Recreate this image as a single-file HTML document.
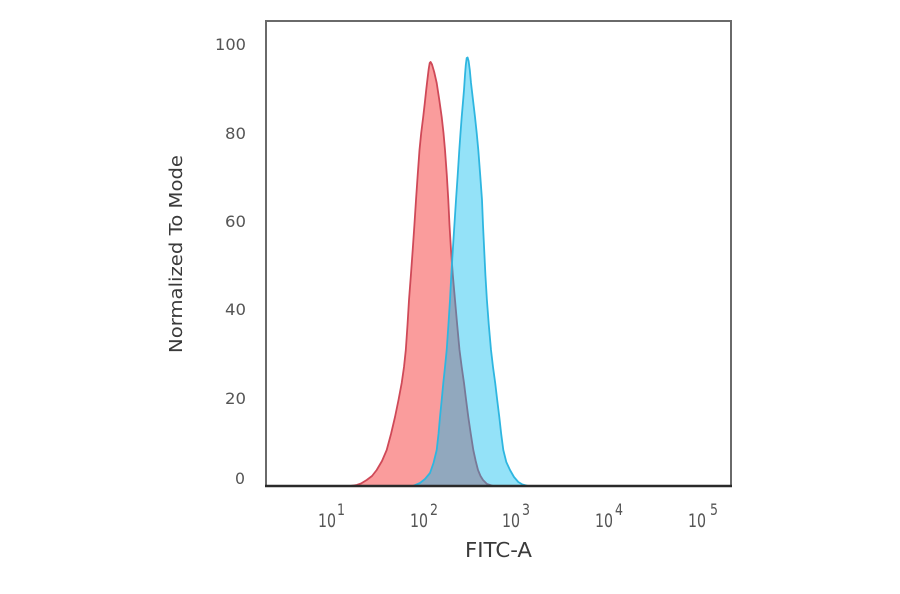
<!DOCTYPE html>
<html>
<head>
<meta charset="utf-8">
<style>
  html, body { margin: 0; padding: 0; background: #ffffff; }
  body { width: 900px; height: 594px; overflow: hidden; }
  svg { display: block; }
  .tick { font-family: "DejaVu Sans", "Liberation Sans", sans-serif; fill: #555; }
  .lab { font-family: "DejaVu Sans", "Liberation Sans", sans-serif; fill: #3a3a3a; }
</style>
</head>
<body>
<svg width="900" height="594" viewBox="0 0 900 594" xmlns="http://www.w3.org/2000/svg">
  <defs>
    <filter id="soft" x="-5%" y="-5%" width="110%" height="110%">
      <feGaussianBlur stdDeviation="0.3"/>
    </filter>
  </defs>
  <rect x="0" y="0" width="900" height="594" fill="#ffffff"/>

  <g filter="url(#soft)">
  <!-- red histogram -->
  <path d="M350,486 L356.7,485 L361,483.5 L366.7,480 L372,476 L376.7,470 L382,461 L386.7,450 L391,434 L395,417 L398.5,400 L401.7,383 L404,367 L405.8,350 L407.5,325 L409,300 L410.9,275 L412.7,250 L414.4,225 L416,200 L417.7,175 L419.5,150 L421.2,133 L423.2,117 L424.8,103 L426.2,90 L427.6,78 L428.7,69 L429.7,63 L430.6,62 L432,64.5 L434.2,72 L436.7,83 L439.3,100 L441.7,117 L443.5,133 L445,150 L446.8,175 L448.3,200 L449.5,225 L451,250 L452.8,275 L455,300 L457.2,325 L459.5,350 L461.7,367 L464,383 L466.1,400 L468.3,417 L470.8,434 L473.3,450 L475.7,461 L478,470 L480.5,476 L483,480 L487,484 L493,486 Z"
        fill="#fa9c9c" stroke="#cf4a58" stroke-width="1.8" stroke-linejoin="round"/>

  <!-- blue histogram -->
  <path d="M413,486 L420,483 L425,479 L430,473 L433.5,463 L436.7,450 L438.5,434 L440,417 L441.7,400 L443.3,383 L445,367 L446.7,350 L448.4,325 L450,300 L451.3,275 L452.8,250 L454.4,225 L456,200 L457.7,175 L459.3,150 L460.5,133 L461.7,117 L462.9,103 L464,90 L465,75 L465.8,65 L466.7,58 L467.6,57.5 L468.6,61 L469.8,70 L471,83 L473,100 L475,117 L476.7,133 L478.3,150 L480.2,175 L482,200 L483,225 L484.2,250 L485.4,275 L486.9,300 L488.8,325 L491,350 L493,367 L495.2,383 L497.2,400 L499.3,417 L501.2,434 L503.3,450 L506.3,462 L510,470 L514,477 L518.3,482 L522.5,484.5 L528,486 Z"
        fill="rgba(0,186,238,0.42)" stroke="#2fb6e0" stroke-width="1.8" stroke-linejoin="round"/>
  </g>

  <!-- frame -->
  <line x1="266" y1="20" x2="266" y2="487" stroke="#6a6a6a" stroke-width="2"/>
  <line x1="265" y1="21" x2="732" y2="21" stroke="#6a6a6a" stroke-width="2"/>
  <line x1="731" y1="20" x2="731" y2="487" stroke="#6a6a6a" stroke-width="2"/>
  <line x1="265" y1="486" x2="732" y2="486" stroke="#2a2a2a" stroke-width="2.4"/>

  <!-- y tick labels -->
  <g class="tick" font-size="16">
    <text x="215" y="50" textLength="31" lengthAdjust="spacingAndGlyphs">100</text>
    <text x="225" y="139" textLength="21" lengthAdjust="spacingAndGlyphs">80</text>
    <text x="225" y="227" textLength="21" lengthAdjust="spacingAndGlyphs">60</text>
    <text x="225" y="315" textLength="21" lengthAdjust="spacingAndGlyphs">40</text>
    <text x="225" y="404" textLength="21" lengthAdjust="spacingAndGlyphs">20</text>
    <text x="235" y="484" textLength="10" lengthAdjust="spacingAndGlyphs">0</text>
  </g>

  <!-- x tick labels -->
  <g class="tick">
    <text x="318" y="527" font-size="19" textLength="18" lengthAdjust="spacingAndGlyphs">10</text>
    <text x="337" y="515" font-size="16" textLength="8" lengthAdjust="spacingAndGlyphs">1</text>
    <text x="410" y="527" font-size="19" textLength="18" lengthAdjust="spacingAndGlyphs">10</text>
    <text x="430" y="515" font-size="16" textLength="8" lengthAdjust="spacingAndGlyphs">2</text>
    <text x="502" y="527" font-size="19" textLength="18" lengthAdjust="spacingAndGlyphs">10</text>
    <text x="522" y="515" font-size="16" textLength="8" lengthAdjust="spacingAndGlyphs">3</text>
    <text x="595" y="527" font-size="19" textLength="18" lengthAdjust="spacingAndGlyphs">10</text>
    <text x="615" y="515" font-size="16" textLength="8" lengthAdjust="spacingAndGlyphs">4</text>
    <text x="688" y="527" font-size="19" textLength="18" lengthAdjust="spacingAndGlyphs">10</text>
    <text x="710" y="515" font-size="16" textLength="8" lengthAdjust="spacingAndGlyphs">5</text>
  </g>

  <!-- axis titles -->
  <text class="lab" x="465" y="557" font-size="20" textLength="67" lengthAdjust="spacingAndGlyphs">FITC-A</text>
  <text class="lab" transform="translate(182,254) rotate(-90)" x="0" y="0" font-size="18" text-anchor="middle" textLength="198" lengthAdjust="spacingAndGlyphs">Normalized To Mode</text>
</svg>
</body>
</html>
